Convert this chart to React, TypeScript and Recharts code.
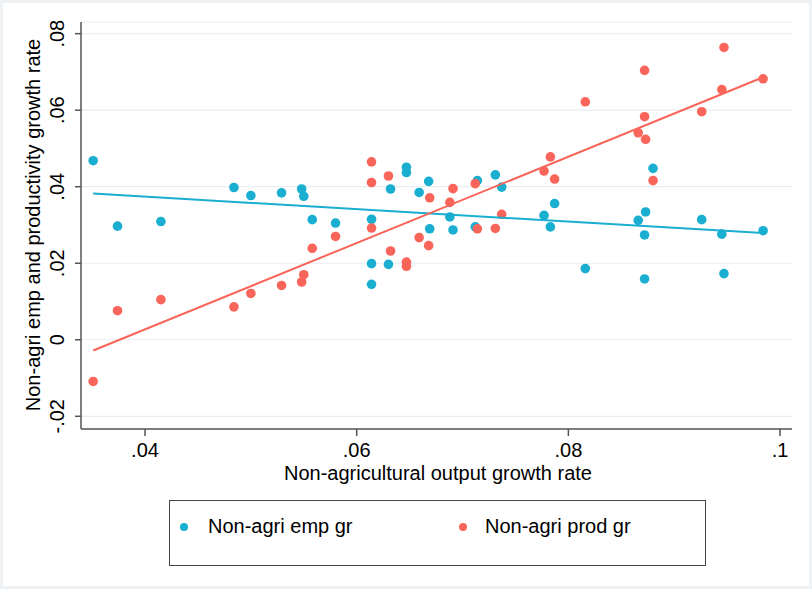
import { ComposedChart, Scatter, XAxis, YAxis, CartesianGrid } from 'recharts'

// non-agricultural output growth (x) and the two outcome series
const outputGrowth = [
  0.0351, 0.0374, 0.0415, 0.0484, 0.05, 0.0529, 0.0548, 0.055, 0.0558, 0.058,
  0.0614, 0.0614, 0.0614, 0.063, 0.0632, 0.0647, 0.0647, 0.0659, 0.0668, 0.0669,
  0.0688, 0.0691, 0.0712, 0.0714, 0.0731, 0.0737, 0.0777, 0.0783, 0.0787, 0.0816,
  0.0866, 0.0872, 0.0872, 0.0873, 0.088, 0.0926, 0.0945, 0.0947, 0.0984,
]
const empGrowth = [
  0.0468, 0.0297, 0.0309, 0.0398, 0.0377, 0.0384, 0.0394, 0.0375, 0.0314, 0.0305,
  0.0315, 0.0199, 0.0145, 0.0197, 0.0394, 0.0451, 0.0437, 0.0385, 0.0414, 0.029,
  0.0321, 0.0287, 0.0295, 0.0416, 0.0431, 0.0399, 0.0325, 0.0295, 0.0356, 0.0186,
  0.0312, 0.0274, 0.0159, 0.0334, 0.0448, 0.0314, 0.0276, 0.0173, 0.0285,
]
const prodGrowth = [
  -0.0109, 0.0076, 0.0105, 0.0086, 0.0121, 0.0142, 0.0151, 0.017, 0.0239, 0.027,
  0.0465, 0.0411, 0.0292, 0.0428, 0.0232, 0.0203, 0.0192, 0.0267, 0.0246, 0.0371,
  0.0359, 0.0395, 0.0408, 0.029, 0.0291, 0.0328, 0.0441, 0.0478, 0.042, 0.0622,
  0.0541, 0.0704, 0.0583, 0.0524, 0.0416, 0.0596, 0.0654, 0.0764, 0.0682,
]

// fitted line end points
const fitX = [0.0351, 0.0984]
const empFit = [0.0382, 0.0279]
const prodFit = [-0.0028, 0.0686]

const xTicks = [0.04, 0.06, 0.08, 0.1]
const yTicks = [-0.02, 0, 0.02, 0.04, 0.06, 0.08]

const BLUE = '#1aaed0'
const RED = '#f9655a'
const AXIS = '#555'
const FONT = '"Liberation Sans", Arial, sans-serif'

const empData = outputGrowth.map((x, i) => ({ x, y: empGrowth[i] }))
const prodData = outputGrowth.map((x, i) => ({ x, y: prodGrowth[i] }))
const empLine = fitX.map((x, i) => ({ x, y: empFit[i] }))
const prodLine = fitX.map((x, i) => ({ x, y: prodFit[i] }))

const fmt = (v: number) => (v === 0 ? '0' : String(v).replace('0.', '.'))

const dot = (color: string) => (props: any) =>
  <circle cx={props.cx} cy={props.cy} r={4.8} fill={color} />

const XTick = ({ x, payload }: any) => (
  <text x={x} y={457} textAnchor="middle" fontSize={20} fontFamily={FONT} fill="#000">
    {fmt(payload.value)}
  </text>
)

const YTick = ({ y, payload }: any) => (
  <text
    x={57}
    y={y}
    transform={`rotate(-90, 57, ${y})`}
    textAnchor="middle"
    dominantBaseline="central"
    fontSize={20}
    fontFamily={FONT}
    fill="#000"
  >
    {fmt(payload.value)}
  </text>
)

export default function App() {
  return (
    <div style={{ position: 'absolute', left: 0, top: 0, width: 812, height: 589, background: '#fff' }}>
      <ComposedChart width={812} height={589} margin={{ top: 22, right: 20, bottom: 0, left: 0 }}>
        <CartesianGrid vertical={false} stroke="#e8eef2" strokeWidth={1.2} />
        <XAxis
          type="number"
          dataKey="x"
          domain={[0.03395, 0.10113]}
          allowDataOverflow
          ticks={xTicks}
          height={160}
          tickSize={7}
          stroke={AXIS}
          strokeWidth={1.5}
          tick={<XTick />}
          label={{
            content: () => (
              <text x={438} y={480} textAnchor="middle" fontSize={20} fontFamily={FONT} fill="#000">
                Non-agricultural output growth rate
              </text>
            ),
          }}
        />
        <YAxis
          type="number"
          dataKey="y"
          domain={[-0.02332, 0.08305]}
          allowDataOverflow
          ticks={yTicks}
          width={81}
          tickSize={6}
          stroke={AXIS}
          strokeWidth={1.5}
          tick={<YTick />}
          label={{
            content: () => (
              <text
                x={33}
                y={225}
                transform="rotate(-90, 33, 225)"
                textAnchor="middle"
                dominantBaseline="central"
                fontSize={20}
                fontFamily={FONT}
                fill="#000"
              >
                Non-agri emp and productivity growth rate
              </text>
            ),
          }}
        />
        <Scatter data={empData} dataKey="y" shape={dot(BLUE)} isAnimationActive={false} />
        <Scatter data={prodData} dataKey="y" shape={dot(RED)} isAnimationActive={false} />
        <Scatter
          data={empLine}
          dataKey="y"
          line={{ stroke: BLUE, strokeWidth: 2 }}
          shape={() => <g />}
          isAnimationActive={false}
        />
        <Scatter
          data={prodLine}
          dataKey="y"
          line={{ stroke: RED, strokeWidth: 2 }}
          shape={() => <g />}
          isAnimationActive={false}
        />
      </ComposedChart>

      <div
        style={{
          position: 'absolute',
          left: 169,
          top: 500,
          width: 537,
          height: 66,
          border: '1.5px solid #444',
          boxSizing: 'border-box',
          fontFamily: FONT,
          fontSize: 20,
          color: '#000',
        }}
      >
        <span style={{ position: 'absolute', left: 10, top: 22, width: 8, height: 8, borderRadius: 4, background: BLUE }} />
        <span style={{ position: 'absolute', left: 38, top: 13, lineHeight: '24px' }}>Non-agri emp gr</span>
        <span style={{ position: 'absolute', left: 289, top: 22, width: 8, height: 8, borderRadius: 4, background: RED }} />
        <span style={{ position: 'absolute', left: 315, top: 13, lineHeight: '24px' }}>Non-agri prod gr</span>
      </div>

      <div
        style={{
          position: 'absolute',
          inset: 0,
          border: '3px solid #eef2f5',
          pointerEvents: 'none',
        }}
      />
    </div>
  )
}
